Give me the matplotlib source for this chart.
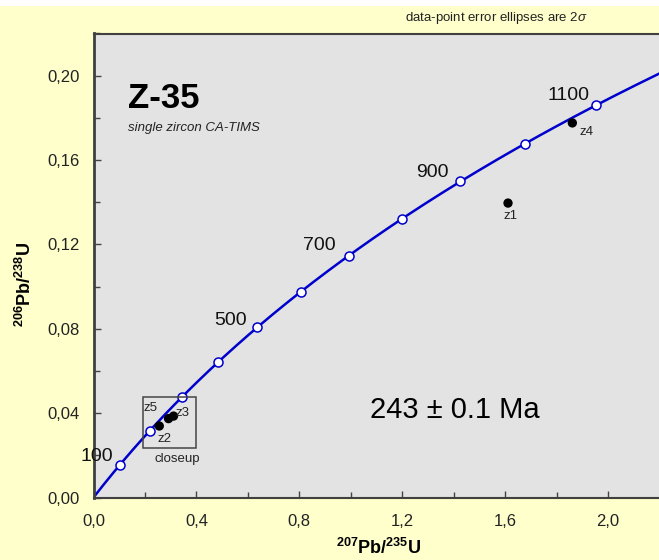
import numpy as np
import matplotlib
matplotlib.use("Agg")
from matplotlib import pyplot as plt
from matplotlib.patches import Rectangle
from matplotlib.ticker import FuncFormatter, MultipleLocator

plt.rcParams['font.family'] = ['Liberation Sans', 'DejaVu Sans']
plt.rcParams['mathtext.fontset'] = 'custom'
plt.rcParams['mathtext.rm'] = 'Liberation Sans:bold'
plt.rcParams['mathtext.it'] = 'Liberation Sans:italic'
plt.rcParams['mathtext.bf'] = 'Liberation Sans:bold'

# decay constants (1/yr)
lam238 = 1.55125e-10
lam235 = 9.8485e-10

# concordia age marks (Ma) and which ones get a label
marker_ages = [100, 200, 300, 400, 500, 600, 700, 800, 900, 1000, 1100, 1200]
label_ages = [100, 500, 700, 900, 1100]
label_offsets_age = [(-17, 6), (-19.5, 5), (-21.5, 7), (-20, 6.5), (-20, 7)]

# measured zircon fractions
names = ['z1', 'z4', 'z2', 'z5', 'z3']
pb207_u235 = [1.611, 1.861, 0.2557, 0.2915, 0.311]
pb206_u238 = [0.1396, 0.1776, 0.0339, 0.0374, 0.0386]
# label offsets in points
label_offsets = [(2, -9.5), (10.5, -6.5), (4, -9), (-13, 7.3), (6.5, 2)]

# closeup box (ratio limits)
box_x = [0.191, 0.398]
box_y = [0.0236, 0.0475]


def concordia(age_ma):
    t = np.asarray(age_ma, dtype=float) * 1e6
    return np.exp(lam235 * t) - 1, np.exp(lam238 * t) - 1


W, H = 659, 560
x0, y0 = 93.5, 497.5      # pixel position of the origin
fig = plt.figure(figsize=(W / 100, H / 100), dpi=100, facecolor='#FFFFCC')
ax = fig.add_axes([x0 / W, (H - y0) / H, (W - x0) / W, 464 / H])
ax.set_facecolor('#E3E3E3')

# white strip at the very top
fig.patches.append(Rectangle((0, 1 - 6 / H), 1, 6 / H, transform=fig.transFigure,
                             facecolor='white', edgecolor='none', zorder=0))

# concordia curve
cx, cy = concordia(np.linspace(0, 1500, 400))
ax.plot(cx, cy, color='#0000CC', lw=1.8, zorder=2)
mx, my = concordia(marker_ages)
ax.plot(mx, my, 'o', ms=6.5, mfc='white', mec='#0000CC', mew=1.1, zorder=3)

# age labels
for a, off in zip(label_ages, label_offsets_age):
    lx, ly = concordia([a])
    ax.annotate(str(a), (lx[0], ly[0]), xytext=off, textcoords='offset points',
                ha='center', va='center', fontsize=14, color='#111111',
                annotation_clip=False, zorder=6)

# data points
ax.scatter(pb207_u235, pb206_u238, s=45, c='black', zorder=5, edgecolors='none')
for n, x, y, off in zip(names, pb207_u235, pb206_u238, label_offsets):
    ax.annotate(n, (x, y), xytext=off, textcoords='offset points', ha='center',
                va='center', fontsize=9.5, color='#222222', zorder=6)

# closeup box
ax.add_patch(Rectangle((box_x[0], box_y[0]), box_x[1] - box_x[0], box_y[1] - box_y[0],
                       fill=False, edgecolor='#444444', lw=1.1, zorder=4))
ax.annotate('closeup', ((box_x[0] + box_x[1]) / 2, box_y[0]), xytext=(6, -8),
            textcoords='offset points', ha='center', va='center', fontsize=9.5,
            color='#222222')

ax.text(0.061, 0.859, 'Z-35', transform=ax.transAxes, fontsize=25, fontweight='bold',
        ha='left', va='center')
ax.text(0.061, 0.796, 'single zircon CA-TIMS', transform=ax.transAxes, fontsize=9.5,
        style='italic', ha='left', va='center', color='#222222')
ax.text(0.489, 0.189, '243 ± 0.1 Ma', transform=ax.transAxes, fontsize=21,
        ha='left', va='center')

fig.text(496 / W, 1 - 18 / H, r'data-point error ellipses are 2$\sigma$',
         ha='center', va='center', fontsize=9.5, color='#222222')

ax.set_xlim(0, (W - x0) / 257.3)
ax.set_ylim(0, 0.22)
ax.xaxis.set_major_locator(MultipleLocator(0.4))
ax.xaxis.set_minor_locator(MultipleLocator(0.2))
ax.yaxis.set_major_locator(MultipleLocator(0.04))
ax.yaxis.set_minor_locator(MultipleLocator(0.02))
ax.xaxis.set_major_formatter(FuncFormatter(lambda v, p: f'{v:.1f}'.replace('.', ',')))
ax.yaxis.set_major_formatter(FuncFormatter(lambda v, p: f'{v:.2f}'.replace('.', ',')))
ax.tick_params(which='both', direction='in', color='#444444', labelsize=12,
               labelcolor='#222222')
ax.tick_params(which='major', length=5, width=1)
ax.tick_params(which='minor', length=4, width=1)
ax.tick_params(axis='y', which='major', pad=10)
ax.tick_params(axis='x', which='major', pad=12)

for s in ['left', 'top', 'bottom']:
    ax.spines[s].set_color('#404040')
ax.spines['left'].set_linewidth(2)
ax.spines['top'].set_linewidth(1.5)
ax.spines['bottom'].set_linewidth(1.5)
ax.spines['right'].set_visible(False)

ax.set_xlabel(r'$\mathrm{^{207}Pb/^{235}U}$', fontsize=13)
ax.set_ylabel(r'$\mathrm{^{206}Pb/^{238}U}$', fontsize=13)
ax.xaxis.set_label_coords((378.5 - x0) / (W - x0), -0.087)
ax.yaxis.set_label_coords(-0.103, 0.46)

fig.savefig('out.png', dpi=100, facecolor=fig.get_facecolor())
